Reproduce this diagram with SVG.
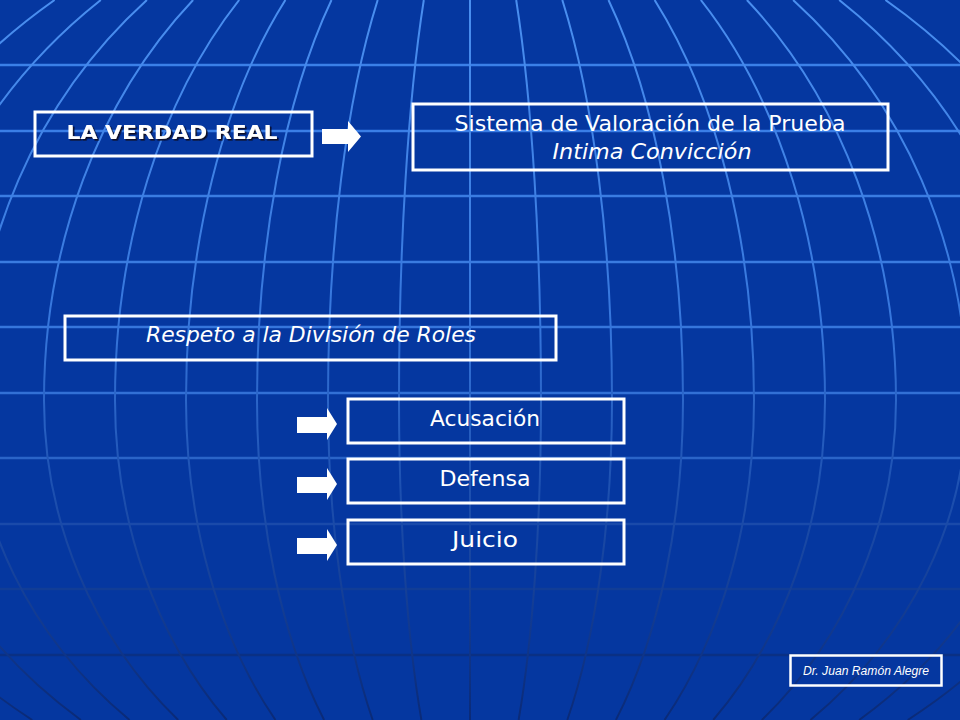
<svg xmlns="http://www.w3.org/2000/svg" xmlns:xlink="http://www.w3.org/1999/xlink" width="960" height="720" viewBox="0 0 960 720">
  <defs>
    <linearGradient id="merid" gradientUnits="userSpaceOnUse" x1="0" y1="0" x2="0" y2="720">
      <stop offset="0" stop-color="#4a8ff0"/>
      <stop offset="0.45" stop-color="#3676dc"/>
      <stop offset="0.68" stop-color="#1d50b0"/>
      <stop offset="1" stop-color="#0a2a78"/>
    </linearGradient>
    <filter id="shadow" x="-5%" y="-20%" width="115%" height="150%">
      <feDropShadow dx="1.6" dy="1.6" stdDeviation="0.3" flood-color="#0a0a28" flood-opacity="1"/>
    </filter>
    <polygon id="arrowS" points="297,417 327,417 327,408 337,424 327,440 327,433 297,433"/>
  </defs>
  <style>
    .m { fill: none; stroke: url(#merid); stroke-width: 2; }
    .h { stroke-width: 2.5; }
    .box { fill: none; stroke: #ffffff; stroke-width: 3; }
    .t { fill: #ffffff; font-family: "DejaVu Sans", "Open Sans", sans-serif; text-anchor: middle; }
    .arr { fill: #ffffff; }
  </style>

  <rect x="0" y="0" width="960" height="720" fill="#0537a0"/>

  <g id="globe-grid">
    <line class="h" x1="0" y1="65" x2="960" y2="65" stroke="#3b80e8"/>
    <line class="h" x1="0" y1="131" x2="960" y2="131" stroke="#3a7ee6"/>
    <line class="h" x1="0" y1="196" x2="960" y2="196" stroke="#3a7ce2"/>
    <line class="h" x1="0" y1="262" x2="960" y2="262" stroke="#3a7be0"/>
    <line class="h" x1="0" y1="327" x2="960" y2="327" stroke="#3676dc"/>
    <line class="h" x1="0" y1="393" x2="960" y2="393" stroke="#3270d6"/>
    <line class="h" x1="0" y1="458" x2="960" y2="458" stroke="#2a64c8"/>
    <line class="h" x1="0" y1="524" x2="960" y2="524" stroke="#1a4aaa"/>
    <line class="h" x1="0" y1="589" x2="960" y2="589" stroke="#113d96"/>
    <line class="h" x1="0" y1="655" x2="960" y2="655" stroke="#0a3084"/>

    <line class="m" x1="470" y1="0" x2="470" y2="720"/>
    <path class="m" d="M516.2,0 A71,526 0 0 1 541,400 A71,439 0 0 1 518.6,720"/>
    <path class="m" d="M562.3,0 A142,526 0 0 1 612,400 A142,439 0 0 1 567.3,720"/>
    <path class="m" d="M608.5,0 A213,526 0 0 1 683,400 A213,439 0 0 1 615.9,720"/>
    <path class="m" d="M654.6,0 A284,526 0 0 1 754,400 A284,439 0 0 1 664.5,720"/>
    <path class="m" d="M700.8,0 A355,526 0 0 1 825,400 A355,439 0 0 1 713.2,720"/>
    <path class="m" d="M746.9,0 A426,526 0 0 1 896,400 A426,439 0 0 1 761.8,720"/>
    <path class="m" d="M793.1,0 A497,526 0 0 1 967,400 A497,439 0 0 1 810.4,720"/>
    <path class="m" d="M839.2,0 A568,526 0 0 1 1038,400 A568,439 0 0 1 859.1,720"/>
    <path class="m" d="M885.4,0 A639,526 0 0 1 1109,400 A639,439 0 0 1 907.7,720"/>
    <path class="m" d="M423.8,0 A71,526 0 0 0 399,400 A71,439 0 0 0 421.4,720"/>
    <path class="m" d="M377.7,0 A142,526 0 0 0 328,400 A142,439 0 0 0 372.7,720"/>
    <path class="m" d="M331.5,0 A213,526 0 0 0 257,400 A213,439 0 0 0 324.1,720"/>
    <path class="m" d="M285.4,0 A284,526 0 0 0 186,400 A284,439 0 0 0 275.5,720"/>
    <path class="m" d="M239.2,0 A355,526 0 0 0 115,400 A355,439 0 0 0 226.8,720"/>
    <path class="m" d="M193.1,0 A426,526 0 0 0 44,400 A426,439 0 0 0 178.2,720"/>
    <path class="m" d="M146.9,0 A497,526 0 0 0 -27,400 A497,439 0 0 0 129.6,720"/>
    <path class="m" d="M100.8,0 A568,526 0 0 0 -98,400 A568,439 0 0 0 80.9,720"/>
    <path class="m" d="M54.6,0 A639,526 0 0 0 -169,400 A639,439 0 0 0 32.3,720"/>
  </g>

  <g id="connectors">
    <polygon class="arr" points="322,129 348,129 348,121 361,136.5 348,152 348,144 322,144"/>
    <use xlink:href="#arrowS" class="arr"/>
    <use xlink:href="#arrowS" class="arr" transform="translate(0,60)"/>
    <use xlink:href="#arrowS" class="arr" transform="translate(0,121)"/>
  </g>

  <g id="node-verdad">
    <rect class="box" x="35" y="112" width="277" height="44"/>
    <text class="t" x="172" y="139" font-size="20" font-weight="bold" filter="url(#shadow)" textLength="211" lengthAdjust="spacingAndGlyphs">LA VERDAD REAL</text>
  </g>

  <g id="node-sistema">
    <rect class="box" x="413" y="104" width="475" height="66"/>
    <text class="t" x="650" y="131" font-size="22" textLength="391" lengthAdjust="spacingAndGlyphs">Sistema de Valoración de la Prueba</text>
    <text class="t" x="652" y="159" font-size="22" font-style="italic" textLength="199" lengthAdjust="spacingAndGlyphs">Intima Convicción</text>
  </g>

  <g id="node-respeto">
    <rect class="box" x="65" y="316" width="491" height="44"/>
    <text class="t" x="311" y="342" font-size="22" font-style="italic" textLength="330" lengthAdjust="spacingAndGlyphs">Respeto a la División de Roles</text>
  </g>

  <g id="node-acusacion">
    <rect class="box" x="348" y="399" width="276" height="44"/>
    <text class="t" x="485" y="426" font-size="22" textLength="110" lengthAdjust="spacingAndGlyphs">Acusación</text>
  </g>

  <g id="node-defensa">
    <rect class="box" x="348" y="459" width="276" height="44"/>
    <text class="t" x="485" y="486" font-size="22" textLength="91" lengthAdjust="spacingAndGlyphs">Defensa</text>
  </g>

  <g id="node-juicio">
    <rect class="box" x="348" y="520" width="276" height="44"/>
    <text class="t" x="485" y="547" font-size="22" textLength="66" lengthAdjust="spacingAndGlyphs">Juicio</text>
  </g>

  <g id="node-autor">
    <rect x="790.5" y="655.5" width="151" height="30" fill="none" stroke="#ffffff" stroke-width="2.5"/>
    <text x="866" y="675" font-size="12" font-style="italic" fill="#ffffff" font-family="Liberation Sans, Arial, sans-serif" text-anchor="middle" textLength="126" lengthAdjust="spacingAndGlyphs">Dr. Juan Ramón Alegre</text>
  </g>
</svg>
